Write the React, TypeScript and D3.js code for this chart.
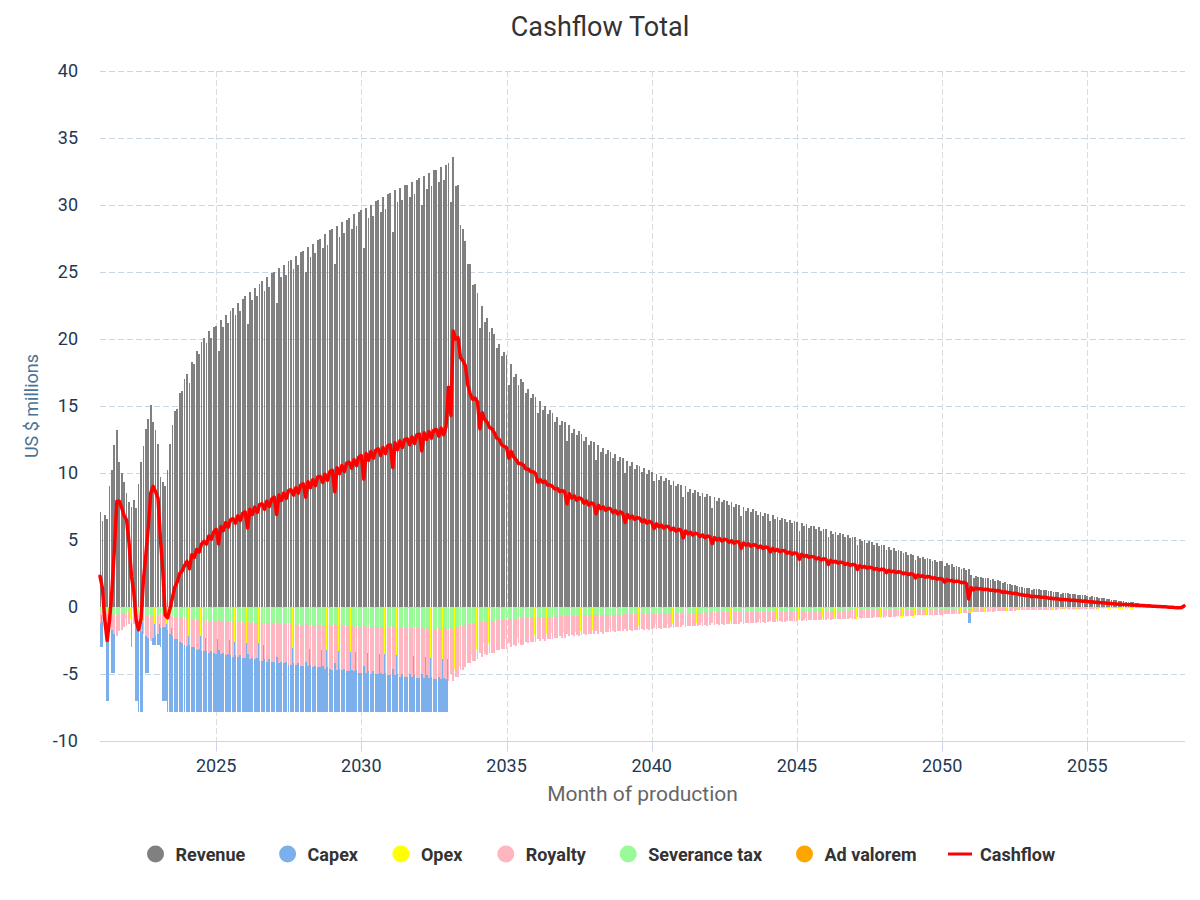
/**
 * Cashflow total - monthly columns with cashflow line
 */
import React, { useEffect, useRef } from 'react'
import * as d3 from 'd3'

// all values in US $ millions, one per month from Jan 2021 to May 2058
const startYear = 2021

const revenue = [
  7.1, 6.4, 6.9, 6.6, 9.0, 10.2, 12.1, 13.2, 10.8, 10.0, 9.3, 8.5,
  7.8, 7.5, 8.0, 7.4, 9.2, 10.8, 12.0, 13.3, 14.0, 15.1, 13.8, 13.2,
  12.2, 9.7, 9.3, 9.0, 10.2, 12.2, 13.6, 14.6, 14.8, 16.0, 16.1, 17.0,
  17.4, 16.7, 18.3, 18.1, 19.1, 18.9, 19.8, 20.1, 19.7, 20.6, 20.1, 20.9,
  21.0, 19.1, 21.4, 20.9, 21.8, 21.2, 22.1, 22.3, 21.8, 22.7, 22.1, 23.0,
  23.2, 21.1, 23.5, 22.9, 23.8, 23.2, 24.1, 24.3, 23.6, 24.6, 23.9, 24.9,
  25.0, 22.7, 25.3, 24.6, 25.5, 24.8, 25.8, 25.9, 25.2, 26.2, 25.5, 26.5,
  26.6, 25.0, 26.9, 26.1, 27.1, 26.4, 27.4, 27.5, 26.8, 27.8, 27.0, 28.1,
  28.2, 25.6, 28.4, 27.6, 28.7, 27.9, 28.9, 29.0, 28.2, 29.3, 28.4, 29.5,
  29.6, 26.8, 29.8, 29.0, 30.0, 29.2, 30.3, 30.4, 29.5, 30.6, 29.7, 30.8,
  30.9, 28.0, 31.1, 30.2, 31.3, 30.4, 31.5, 31.5, 30.6, 31.7, 30.8, 31.9,
  32.0, 30.0, 32.2, 31.2, 32.4, 31.4, 32.6, 32.6, 31.7, 32.8, 31.9, 33.0,
  33.1, 30.2, 33.6, 31.4, 31.5, 28.5, 28.2, 27.3, 25.6, 25.6, 24.0, 24.1,
  23.4, 20.8, 22.5, 21.3, 21.6, 20.5, 20.8, 20.4, 19.3, 19.6, 18.7, 19.0,
  18.8, 16.6, 18.1, 17.2, 17.4, 16.6, 17.0, 16.8, 16.0, 16.3, 15.6, 15.9,
  15.7, 14.5, 15.4, 14.7, 15.0, 14.4, 14.7, 14.5, 13.8, 14.2, 13.6, 13.9,
  13.8, 12.4, 13.6, 13.0, 13.3, 12.8, 13.1, 12.9, 12.4, 12.7, 12.1, 12.4,
  12.3, 11.0, 12.1, 11.6, 11.9, 11.4, 11.7, 11.6, 11.1, 11.4, 10.9, 11.2,
  11.1, 10.0, 10.9, 10.5, 10.8, 10.3, 10.6, 10.5, 10.1, 10.4, 9.9, 10.2,
  10.1, 9.4, 9.9, 9.5, 9.8, 9.4, 9.6, 9.5, 9.1, 9.4, 9.0, 9.2,
  9.1, 8.2, 9.0, 8.6, 8.8, 8.5, 8.7, 8.6, 8.3, 8.5, 8.2, 8.4,
  8.3, 7.4, 8.2, 7.9, 8.1, 7.8, 8.0, 7.9, 7.6, 7.8, 7.5, 7.7,
  7.6, 6.8, 7.5, 7.2, 7.4, 7.1, 7.3, 7.2, 6.9, 7.1, 6.8, 7.0,
  6.95, 6.45, 6.85, 6.58, 6.75, 6.49, 6.65, 6.6, 6.34, 6.5, 6.24, 6.4,
  6.35, 5.69, 6.26, 6.01, 6.17, 5.92, 6.08, 6.03, 5.79, 5.94, 5.7, 5.85,
  5.8, 5.19, 5.7, 5.47, 5.6, 5.37, 5.5, 5.45, 5.23, 5.35, 5.13, 5.25,
  5.2, 4.65, 5.1, 4.89, 5.0, 4.79, 4.9, 4.85, 4.65, 4.75, 4.55, 4.65,
  4.6, 4.24, 4.48, 4.29, 4.37, 4.17, 4.25, 4.19, 4.0, 4.08, 3.89, 3.96,
  3.9, 3.49, 3.82, 3.66, 3.73, 3.57, 3.65, 3.61, 3.46, 3.53, 3.37, 3.44,
  3.4, 3.03, 3.3, 3.14, 3.18, 3.02, 3.06, 3.0, 2.86, 2.9, 2.76, 2.8,
  2.4, 2.13, 2.33, 2.22, 2.25, 2.14, 2.18, 2.14, 2.03, 2.06, 1.97, 1.99,
  1.95, 1.78, 1.84, 1.72, 1.72, 1.62, 1.62, 1.58, 1.5, 1.51, 1.43, 1.45,
  1.42, 1.26, 1.37, 1.31, 1.32, 1.26, 1.27, 1.25, 1.18, 1.2, 1.13, 1.15,
  1.12, 0.99, 1.08, 1.02, 1.03, 0.98, 0.99, 0.96, 0.91, 0.92, 0.87, 0.87,
  0.85, 0.74, 0.79, 0.74, 0.73, 0.68, 0.68, 0.65, 0.6, 0.59, 0.54, 0.53,
  0.5, 0.45, 0.45, 0.42, 0.41, 0.37, 0.36, 0.34, 0.3, 0.29, 0.26, 0.24,
  0.22, 0.19, 0.19, 0.17, 0.16, 0.15, 0.13, 0.12, 0.1, 0.09, 0.07, 0.06,
  0.04, 0.03, 0.02, 0.01, 0.01,
]

// costs are stored as positive amounts and drawn below zero
const capex = [
  3.0, 3.0, 0, 7.0, 0, 4.9, 4.9, 0, 0, 0, 0, 0,
  0, 3.0, 0, 7.0, 7.8, 7.8, 0, 4.9, 4.9, 0, 2.8, 2.8,
  2.8, 3.0, 7.0, 7.0, 7.8, 7.8, 7.8, 7.8, 7.8, 7.8, 7.8, 7.8,
  7.8, 7.8, 7.8, 7.8, 7.8, 7.8, 7.8, 7.8, 7.8, 7.8, 7.8, 7.8,
  7.8, 7.8, 7.8, 7.8, 7.8, 7.8, 7.8, 7.8, 7.8, 7.8, 7.8, 7.8,
  7.8, 7.8, 7.8, 7.8, 7.8, 7.8, 7.8, 7.8, 7.8, 7.8, 7.8, 7.8,
  7.8, 7.8, 7.8, 7.8, 7.8, 7.8, 7.8, 7.8, 7.8, 7.8, 7.8, 7.8,
  7.8, 7.8, 7.8, 7.8, 7.8, 7.8, 7.8, 7.8, 7.8, 7.8, 7.8, 7.8,
  7.8, 7.8, 7.8, 7.8, 7.8, 7.8, 7.8, 7.8, 7.8, 7.8, 7.8, 7.8,
  7.8, 7.8, 7.8, 7.8, 7.8, 7.8, 7.8, 7.8, 7.8, 7.8, 7.8, 7.8,
  7.8, 7.8, 7.8, 7.8, 7.8, 7.8, 7.8, 7.8, 7.8, 7.8, 7.8, 7.8,
  7.8, 7.8, 7.8, 7.8, 7.8, 7.8, 7.8, 7.8, 7.8, 7.8, 7.8, 7.8,
  4.6, 2.0, 0, 0, 0, 0, 0, 0, 0, 0, 0, 0,
  0, 0, 0, 0, 0, 0, 0, 0, 0, 0, 0, 0,
  0, 0, 0, 0, 0, 0, 0, 0, 0, 0, 0, 0,
  0, 0, 0, 0, 0, 0, 0, 0, 0, 0, 0, 0,
  0, 0, 0, 0, 0, 0, 0, 0, 0, 0, 0, 0,
  0, 0, 0, 0, 0, 0, 0, 0, 0, 0, 0, 0,
  0, 0, 0, 0, 0, 0, 0, 0, 0, 0, 0, 0,
  0, 0, 0, 0, 0, 0, 0, 0, 0, 0, 0, 0,
  0, 0, 0, 0, 0, 0, 0, 0, 0, 0, 0, 0,
  0, 0, 0, 0, 0, 0, 0, 0, 0, 0, 0, 0,
  0, 0, 0, 0, 0, 0, 0, 0, 0, 0, 0, 0,
  0, 0, 0, 0, 0, 0, 0, 0, 0, 0, 0, 0,
  0, 0, 0, 0, 0, 0, 0, 0, 0, 0, 0, 0,
  0, 0, 0, 0, 0, 0, 0, 0, 0, 0, 0, 0,
  0, 0, 0, 0, 0, 0, 0, 0, 0, 0, 0, 0,
  0, 0, 0, 0, 0, 0, 0, 0, 0, 0, 0, 0,
  0, 0, 0, 0, 0, 0, 0, 0, 0, 0, 0, 0,
  0, 0, 0, 0, 0, 0, 0, 0, 0, 0, 0, 1.2,
  0, 0, 0, 0, 0, 0, 0, 0, 0, 0, 0, 0,
  0, 0, 0, 0, 0, 0, 0, 0, 0, 0, 0, 0,
  0, 0, 0, 0, 0, 0, 0, 0, 0, 0, 0, 0,
  0, 0, 0, 0, 0, 0, 0, 0, 0, 0, 0, 0,
  0, 0, 0, 0, 0, 0, 0, 0, 0, 0, 0, 0,
  0, 0, 0, 0, 0, 0, 0, 0, 0, 0, 0, 0,
  0, 0, 0, 0, 0, 0, 0, 0, 0, 0, 0, 0,
  0, 0, 0, 0, 0,
]

const opex = [
  0.6, 0.6, 0.6, 0.6, 0.8, 0.8, 0.9, 0.9, 0.9, 0.9, 0.9, 0.9,
  0.9, 0.9, 0.9, 0.9, 1.1, 1.1, 1.2, 1.2, 1.2, 1.3, 1.3, 1.3,
  1.3, 1.3, 1.3, 1.3, 1.5, 1.6, 1.7, 1.8, 1.9, 2.0, 2.0, 2.1,
  2.2, 2.05, 2.2, 2.15, 2.25, 2.2, 2.3, 2.3, 2.25, 2.35, 2.3, 2.4,
  2.4, 2.2, 2.45, 2.4, 2.5, 2.45, 2.55, 2.6, 2.5, 2.6, 2.55, 2.65,
  2.7, 2.45, 2.7, 2.65, 2.75, 2.7, 2.8, 2.8, 2.75, 2.85, 2.8, 2.9,
  2.9, 2.65, 2.95, 2.9, 3.0, 2.9, 3.0, 3.05, 2.95, 3.05, 3.0, 3.1,
  3.1, 2.95, 3.1, 3.05, 3.15, 3.1, 3.15, 3.2, 3.1, 3.2, 3.15, 3.25,
  3.25, 2.95, 3.25, 3.2, 3.3, 3.2, 3.3, 3.35, 3.25, 3.35, 3.3, 3.4,
  3.4, 3.1, 3.4, 3.35, 3.45, 3.35, 3.45, 3.5, 3.4, 3.5, 3.45, 3.55,
  3.55, 3.2, 3.55, 3.5, 3.6, 3.5, 3.6, 3.65, 3.55, 3.65, 3.6, 3.7,
  3.7, 3.5, 3.75, 3.65, 3.8, 3.7, 3.8, 3.85, 3.75, 3.85, 3.8, 3.9,
  4.0, 3.7, 4.6, 4.5, 4.4, 4.2, 4.1, 4.0, 3.9, 3.6, 3.3, 3.1,
  2.7, 2.5, 2.7, 2.6, 2.7, 2.6, 2.6, 2.6, 2.5, 2.5, 2.4, 2.4,
  2.4, 2.2, 2.4, 2.3, 2.3, 2.25, 2.25, 2.2, 2.15, 2.15, 2.1, 2.1,
  2.0, 1.9, 2.0, 1.95, 2.0, 1.95, 1.95, 1.95, 1.9, 1.9, 1.85, 1.9,
  1.9, 1.7, 1.85, 1.8, 1.85, 1.8, 1.8, 1.8, 1.75, 1.75, 1.7, 1.75,
  1.7, 1.55, 1.7, 1.65, 1.65, 1.6, 1.6, 1.6, 1.55, 1.6, 1.55, 1.55,
  1.55, 1.4, 1.5, 1.5, 1.5, 1.45, 1.45, 1.45, 1.4, 1.45, 1.4, 1.4,
  1.4, 1.3, 1.4, 1.35, 1.35, 1.3, 1.3, 1.3, 1.28, 1.3, 1.25, 1.27,
  1.25, 1.13, 1.23, 1.2, 1.22, 1.18, 1.2, 1.19, 1.15, 1.17, 1.13, 1.15,
  1.12, 1.01, 1.11, 1.07, 1.1, 1.06, 1.08, 1.07, 1.03, 1.06, 1.02, 1.04,
  1.0, 0.9, 0.99, 0.96, 0.98, 0.95, 0.97, 0.96, 0.93, 0.95, 0.92, 0.94,
  0.92, 0.86, 0.91, 0.88, 0.9, 0.87, 0.89, 0.88, 0.85, 0.87, 0.84, 0.86,
  0.86, 0.78, 0.86, 0.83, 0.85, 0.82, 0.84, 0.84, 0.81, 0.83, 0.8, 0.82,
  0.85, 0.77, 0.85, 0.82, 0.84, 0.81, 0.83, 0.83, 0.8, 0.82, 0.79, 0.81,
  0.86, 0.78, 0.86, 0.83, 0.85, 0.82, 0.84, 0.84, 0.81, 0.83, 0.8, 0.82,
  0.82, 0.77, 0.81, 0.78, 0.79, 0.76, 0.77, 0.76, 0.73, 0.74, 0.7, 0.72,
  0.62, 0.56, 0.61, 0.59, 0.6, 0.58, 0.59, 0.58, 0.56, 0.57, 0.55, 0.56,
  0.5, 0.45, 0.49, 0.47, 0.48, 0.46, 0.47, 0.46, 0.44, 0.45, 0.43, 0.44,
  0.39, 0.35, 0.38, 0.37, 0.37, 0.36, 0.36, 0.35, 0.34, 0.34, 0.33, 0.33,
  0.29, 0.27, 0.28, 0.27, 0.27, 0.26, 0.26, 0.26, 0.25, 0.25, 0.24, 0.24,
  0.23, 0.21, 0.23, 0.22, 0.22, 0.21, 0.22, 0.22, 0.21, 0.21, 0.2, 0.21,
  0.22, 0.2, 0.22, 0.21, 0.22, 0.21, 0.21, 0.21, 0.2, 0.21, 0.2, 0.2,
  0.2, 0.18, 0.2, 0.19, 0.19, 0.18, 0.18, 0.18, 0.17, 0.17, 0.16, 0.16,
  0.15, 0.14, 0.14, 0.13, 0.13, 0.12, 0.12, 0.11, 0.1, 0.1, 0.09, 0.09,
  0.08, 0.07, 0.07, 0.06, 0.06, 0.05, 0.05, 0.05, 0.04, 0.04, 0.04, 0.04,
  0.04, 0.04, 0.04, 0.04, 0.04,
]

const royalty = [
  1.2, 1.1, 1.1, 1.1, 1.5, 1.7, 2.0, 2.2, 1.8, 1.7, 1.5, 1.4,
  1.3, 1.2, 1.3, 1.2, 1.5, 1.8, 2.0, 2.2, 2.3, 2.5, 2.3, 2.2,
  2.0, 1.6, 1.5, 1.5, 1.7, 2.0, 2.2, 2.4, 2.4, 2.6, 2.7, 2.8,
  2.9, 2.8, 3.0, 3.0, 3.2, 3.1, 3.3, 3.3, 3.3, 3.4, 3.3, 3.4,
  3.5, 3.2, 3.5, 3.4, 3.6, 3.5, 3.6, 3.7, 3.6, 3.7, 3.6, 3.8,
  3.8, 3.5, 3.9, 3.8, 3.9, 3.8, 4.0, 4.0, 3.9, 4.1, 3.9, 4.1,
  4.1, 3.7, 4.2, 4.1, 4.2, 4.1, 4.3, 4.3, 4.2, 4.3, 4.2, 4.4,
  4.4, 4.1, 4.4, 4.3, 4.5, 4.4, 4.5, 4.5, 4.4, 4.6, 4.5, 4.6,
  4.7, 4.2, 4.7, 4.6, 4.7, 4.6, 4.8, 4.8, 4.7, 4.8, 4.7, 4.9,
  4.9, 4.4, 4.9, 4.8, 5.0, 4.8, 5.0, 5.0, 4.9, 5.0, 4.9, 5.1,
  5.1, 4.6, 5.1, 5.0, 5.2, 5.0, 5.2, 5.2, 5.0, 5.2, 5.1, 5.3,
  5.3, 5.0, 5.3, 5.1, 5.3, 5.2, 5.4, 5.4, 5.2, 5.4, 5.3, 5.4,
  5.5, 5.0, 5.5, 5.2, 5.2, 4.7, 4.7, 4.5, 4.2, 4.2, 4.0, 4.0,
  3.9, 3.4, 3.7, 3.5, 3.6, 3.4, 3.4, 3.4, 3.2, 3.2, 3.1, 3.1,
  3.1, 2.7, 3.0, 2.8, 2.9, 2.7, 2.8, 2.8, 2.6, 2.7, 2.6, 2.6,
  2.6, 2.4, 2.5, 2.4, 2.5, 2.4, 2.4, 2.4, 2.3, 2.3, 2.2, 2.3,
  2.3, 2.0, 2.2, 2.1, 2.2, 2.1, 2.2, 2.1, 2.0, 2.1, 2.0, 2.0,
  2.0, 1.8, 2.0, 1.9, 2.0, 1.9, 1.9, 1.9, 1.8, 1.9, 1.8, 1.8,
  1.8, 1.65, 1.8, 1.73, 1.78, 1.7, 1.75, 1.73, 1.67, 1.72, 1.63, 1.68,
  1.67, 1.55, 1.63, 1.57, 1.62, 1.55, 1.58, 1.57, 1.5, 1.55, 1.49, 1.52,
  1.5, 1.35, 1.49, 1.42, 1.45, 1.4, 1.44, 1.42, 1.37, 1.4, 1.35, 1.39,
  1.37, 1.22, 1.35, 1.3, 1.34, 1.29, 1.32, 1.3, 1.25, 1.29, 1.24, 1.27,
  1.25, 1.12, 1.24, 1.19, 1.22, 1.17, 1.2, 1.19, 1.14, 1.17, 1.12, 1.16,
  1.15, 1.06, 1.13, 1.09, 1.11, 1.07, 1.1, 1.09, 1.05, 1.07, 1.03, 1.06,
  1.05, 0.94, 1.03, 0.99, 1.02, 0.98, 1.0, 0.99, 0.96, 0.98, 0.94, 0.97,
  0.96, 0.86, 0.94, 0.9, 0.92, 0.89, 0.91, 0.9, 0.86, 0.88, 0.85, 0.87,
  0.86, 0.77, 0.84, 0.81, 0.83, 0.79, 0.81, 0.8, 0.77, 0.78, 0.75, 0.77,
  0.76, 0.7, 0.74, 0.71, 0.72, 0.69, 0.7, 0.69, 0.66, 0.67, 0.64, 0.65,
  0.64, 0.58, 0.63, 0.6, 0.62, 0.59, 0.6, 0.6, 0.57, 0.58, 0.56, 0.57,
  0.56, 0.5, 0.54, 0.52, 0.52, 0.5, 0.5, 0.5, 0.47, 0.48, 0.46, 0.46,
  0.4, 0.35, 0.38, 0.37, 0.37, 0.35, 0.36, 0.35, 0.33, 0.34, 0.33, 0.33,
  0.32, 0.29, 0.3, 0.28, 0.28, 0.27, 0.27, 0.26, 0.25, 0.25, 0.24, 0.24,
  0.23, 0.21, 0.23, 0.22, 0.22, 0.21, 0.21, 0.21, 0.19, 0.2, 0.19, 0.19,
  0.18, 0.16, 0.18, 0.17, 0.17, 0.16, 0.16, 0.16, 0.15, 0.15, 0.14, 0.14,
  0.14, 0.12, 0.13, 0.12, 0.12, 0.11, 0.11, 0.11, 0.1, 0.1, 0.09, 0.09,
  0.08, 0.07, 0.07, 0.07, 0.07, 0.06, 0.06, 0.06, 0.05, 0.05, 0.04, 0.04,
  0.04, 0.03, 0.03, 0.03, 0.03, 0.02, 0.02, 0.02, 0.02, 0.01, 0.01, 0.01,
  0.01, 0, 0, 0, 0,
]

const severanceTax = [
  0.36, 0.32, 0.35, 0.33, 0.45, 0.51, 0.61, 0.66, 0.54, 0.5, 0.47, 0.43,
  0.39, 0.38, 0.4, 0.37, 0.46, 0.54, 0.6, 0.67, 0.7, 0.76, 0.69, 0.66,
  0.61, 0.49, 0.47, 0.45, 0.51, 0.61, 0.68, 0.73, 0.74, 0.8, 0.81, 0.85,
  0.87, 0.84, 0.92, 0.91, 0.96, 0.95, 0.99, 1.01, 0.99, 1.03, 1.01, 1.05,
  1.05, 0.96, 1.07, 1.05, 1.09, 1.06, 1.11, 1.12, 1.09, 1.14, 1.11, 1.15,
  1.16, 1.06, 1.18, 1.15, 1.19, 1.16, 1.21, 1.22, 1.18, 1.23, 1.2, 1.25,
  1.25, 1.14, 1.27, 1.23, 1.28, 1.24, 1.29, 1.3, 1.26, 1.31, 1.28, 1.33,
  1.33, 1.25, 1.35, 1.31, 1.36, 1.32, 1.37, 1.38, 1.34, 1.39, 1.35, 1.41,
  1.41, 1.28, 1.42, 1.38, 1.44, 1.4, 1.45, 1.45, 1.41, 1.47, 1.42, 1.48,
  1.48, 1.34, 1.49, 1.45, 1.5, 1.46, 1.52, 1.52, 1.48, 1.53, 1.49, 1.54,
  1.55, 1.4, 1.56, 1.51, 1.57, 1.52, 1.58, 1.58, 1.53, 1.59, 1.54, 1.6,
  1.6, 1.5, 1.61, 1.56, 1.62, 1.57, 1.63, 1.63, 1.59, 1.64, 1.6, 1.65,
  1.66, 1.51, 1.68, 1.57, 1.58, 1.43, 1.41, 1.37, 1.28, 1.28, 1.2, 1.21,
  1.17, 1.04, 1.13, 1.07, 1.08, 1.03, 1.04, 1.02, 0.97, 0.98, 0.94, 0.95,
  0.94, 0.83, 0.91, 0.86, 0.87, 0.83, 0.85, 0.84, 0.8, 0.82, 0.78, 0.8,
  0.79, 0.73, 0.77, 0.74, 0.75, 0.72, 0.74, 0.73, 0.69, 0.71, 0.68, 0.7,
  0.69, 0.62, 0.68, 0.65, 0.67, 0.64, 0.66, 0.65, 0.62, 0.64, 0.61, 0.62,
  0.62, 0.55, 0.61, 0.58, 0.6, 0.57, 0.59, 0.58, 0.56, 0.57, 0.55, 0.56,
  0.56, 0.5, 0.55, 0.53, 0.54, 0.52, 0.53, 0.53, 0.51, 0.52, 0.5, 0.51,
  0.51, 0.47, 0.5, 0.48, 0.49, 0.47, 0.48, 0.48, 0.46, 0.47, 0.45, 0.46,
  0.46, 0.41, 0.45, 0.43, 0.44, 0.43, 0.44, 0.43, 0.42, 0.43, 0.41, 0.42,
  0.42, 0.37, 0.41, 0.4, 0.41, 0.39, 0.4, 0.4, 0.38, 0.39, 0.38, 0.39,
  0.38, 0.34, 0.38, 0.36, 0.37, 0.36, 0.37, 0.36, 0.35, 0.36, 0.34, 0.35,
  0.35, 0.32, 0.34, 0.33, 0.34, 0.32, 0.33, 0.33, 0.32, 0.33, 0.31, 0.32,
  0.32, 0.28, 0.31, 0.3, 0.31, 0.3, 0.3, 0.3, 0.29, 0.3, 0.29, 0.29,
  0.29, 0.26, 0.29, 0.27, 0.28, 0.27, 0.28, 0.27, 0.26, 0.27, 0.26, 0.26,
  0.26, 0.23, 0.26, 0.24, 0.25, 0.24, 0.25, 0.24, 0.23, 0.24, 0.23, 0.23,
  0.23, 0.21, 0.22, 0.21, 0.22, 0.21, 0.21, 0.21, 0.2, 0.2, 0.19, 0.2,
  0.2, 0.17, 0.19, 0.18, 0.19, 0.18, 0.18, 0.18, 0.17, 0.18, 0.17, 0.17,
  0.17, 0.15, 0.17, 0.16, 0.16, 0.15, 0.15, 0.15, 0.14, 0.15, 0.14, 0.14,
  0.12, 0.11, 0.12, 0.11, 0.11, 0.11, 0.11, 0.11, 0.1, 0.1, 0.1, 0.1,
  0.1, 0.09, 0.09, 0.09, 0.09, 0.08, 0.08, 0.08, 0.08, 0.08, 0.07, 0.07,
  0.07, 0.06, 0.07, 0.07, 0.07, 0.06, 0.06, 0.06, 0.06, 0.06, 0.06, 0.06,
  0.06, 0.05, 0.05, 0.05, 0.05, 0.05, 0.05, 0.05, 0.05, 0.05, 0.04, 0.04,
  0.04, 0.04, 0.04, 0.04, 0.04, 0.03, 0.03, 0.03, 0.03, 0.03, 0.03, 0.03,
  0.03, 0.02, 0.02, 0.02, 0.02, 0.02, 0.02, 0.02, 0.02, 0.01, 0.01, 0.01,
  0.01, 0.01, 0.01, 0.01, 0.01, 0.01, 0.01, 0.01, 0.01, 0, 0, 0,
  0, 0, 0, 0, 0,
]

const adValorem = [
  0.14, 0.13, 0.14, 0.13, 0.18, 0.2, 0.24, 0.26, 0.22, 0.2, 0.19, 0.17,
  0.16, 0.15, 0.16, 0.15, 0.18, 0.22, 0.24, 0.27, 0.28, 0.3, 0.28, 0.26,
  0.24, 0.19, 0.19, 0.18, 0.2, 0.24, 0.27, 0.29, 0.3, 0.32, 0.32, 0.34,
  0.35, 0.33, 0.37, 0.36, 0.38, 0.38, 0.4, 0.4, 0.39, 0.41, 0.4, 0.42,
  0.42, 0.38, 0.43, 0.42, 0.44, 0.42, 0.44, 0.45, 0.44, 0.45, 0.44, 0.46,
  0.46, 0.42, 0.47, 0.46, 0.48, 0.46, 0.48, 0.49, 0.47, 0.49, 0.48, 0.5,
  0.5, 0.45, 0.51, 0.49, 0.51, 0.5, 0.52, 0.52, 0.5, 0.52, 0.51, 0.53,
  0.53, 0.5, 0.54, 0.52, 0.54, 0.53, 0.55, 0.55, 0.54, 0.56, 0.54, 0.56,
  0.56, 0.51, 0.57, 0.55, 0.57, 0.56, 0.58, 0.58, 0.56, 0.59, 0.57, 0.59,
  0.59, 0.54, 0.6, 0.58, 0.6, 0.58, 0.61, 0.61, 0.59, 0.61, 0.59, 0.62,
  0.62, 0.56, 0.62, 0.6, 0.63, 0.61, 0.63, 0.63, 0.61, 0.63, 0.62, 0.64,
  0.64, 0.6, 0.64, 0.62, 0.65, 0.63, 0.65, 0.65, 0.63, 0.66, 0.64, 0.66,
  0.66, 0.6, 0.67, 0.63, 0.63, 0.57, 0.56, 0.55, 0.51, 0.51, 0.48, 0.48,
  0.47, 0.42, 0.45, 0.43, 0.43, 0.41, 0.42, 0.41, 0.39, 0.39, 0.37, 0.38,
  0.38, 0.33, 0.36, 0.34, 0.35, 0.33, 0.34, 0.34, 0.32, 0.33, 0.31, 0.32,
  0.31, 0.29, 0.31, 0.29, 0.3, 0.29, 0.29, 0.29, 0.28, 0.28, 0.27, 0.28,
  0.28, 0.25, 0.27, 0.26, 0.27, 0.26, 0.26, 0.26, 0.25, 0.25, 0.24, 0.25,
  0.25, 0.22, 0.24, 0.23, 0.24, 0.23, 0.23, 0.23, 0.22, 0.23, 0.22, 0.22,
  0.22, 0.2, 0.22, 0.21, 0.22, 0.21, 0.21, 0.21, 0.2, 0.21, 0.2, 0.2,
  0.2, 0.19, 0.2, 0.19, 0.2, 0.19, 0.19, 0.19, 0.18, 0.19, 0.18, 0.18,
  0.18, 0.16, 0.18, 0.17, 0.18, 0.17, 0.17, 0.17, 0.17, 0.17, 0.16, 0.17,
  0.17, 0.15, 0.16, 0.16, 0.16, 0.16, 0.16, 0.16, 0.15, 0.16, 0.15, 0.15,
  0.15, 0.14, 0.15, 0.14, 0.15, 0.14, 0.15, 0.14, 0.14, 0.14, 0.14, 0.14,
  0.14, 0.13, 0.14, 0.13, 0.14, 0.13, 0.13, 0.13, 0.13, 0.13, 0.12, 0.13,
  0.13, 0.11, 0.13, 0.12, 0.12, 0.12, 0.12, 0.12, 0.12, 0.12, 0.11, 0.12,
  0.12, 0.1, 0.11, 0.11, 0.11, 0.11, 0.11, 0.11, 0.1, 0.11, 0.1, 0.11,
  0.1, 0.09, 0.1, 0.1, 0.1, 0.1, 0.1, 0.1, 0.09, 0.1, 0.09, 0.09,
  0.09, 0.08, 0.09, 0.09, 0.09, 0.08, 0.09, 0.08, 0.08, 0.08, 0.08, 0.08,
  0.08, 0.07, 0.08, 0.07, 0.07, 0.07, 0.07, 0.07, 0.07, 0.07, 0.07, 0.07,
  0.07, 0.06, 0.07, 0.06, 0.06, 0.06, 0.06, 0.06, 0.06, 0.06, 0.06, 0.06,
  0.05, 0.04, 0.05, 0.04, 0.05, 0.04, 0.04, 0.04, 0.04, 0.04, 0.04, 0.04,
  0.04, 0.04, 0.04, 0.03, 0.03, 0.03, 0.03, 0.03, 0.03, 0.03, 0.03, 0.03,
  0.03, 0.03, 0.03, 0.03, 0.03, 0.03, 0.03, 0.03, 0.02, 0.02, 0.02, 0.02,
  0.02, 0.02, 0.02, 0.02, 0.02, 0.02, 0.02, 0.02, 0.02, 0.02, 0.02, 0.02,
  0.02, 0.01, 0.02, 0.01, 0.01, 0.01, 0.01, 0.01, 0.01, 0.01, 0.01, 0.01,
  0.01, 0.01, 0.01, 0.01, 0.01, 0.01, 0.01, 0.01, 0.01, 0.01, 0.01, 0.01,
  0, 0, 0, 0, 0, 0, 0, 0, 0, 0, 0, 0,
  0, 0, 0, 0, 0,
]

const cashflow = [
  2.3, 1.4, -0.9, -2.5, -1.0, 1.3, 4.3, 7.9, 7.9, 7.4, 6.8, 6.5,
  4.8, 2.3, 1.2, -1.0, -1.7, -0.9, 2.0, 3.9, 6.0, 8.5, 9.0, 8.6,
  8.1, 5.0, 2.8, -0.6, -0.8, -0.1, 0.7, 1.5, 1.9, 2.5, 2.7, 3.1,
  3.4, 2.85, 3.9, 3.7, 4.3, 4.1, 4.7, 4.9, 4.7, 5.3, 5.05, 5.6,
  5.8, 4.7, 6.0, 5.7, 6.3, 5.95, 6.5, 6.6, 6.25, 6.8, 6.45, 7.0,
  7.1, 5.9, 7.3, 6.9, 7.45, 7.05, 7.65, 7.7, 7.3, 7.9, 7.5, 8.05,
  8.2, 6.9, 8.35, 7.95, 8.5, 8.1, 8.7, 8.75, 8.35, 8.9, 8.5, 9.1,
  9.2, 8.2, 9.35, 8.9, 9.5, 9.05, 9.7, 9.75, 9.3, 9.9, 9.45, 10.1,
  10.2, 8.6, 10.4, 9.95, 10.55, 10.1, 10.75, 10.8, 10.35, 11.0, 10.55, 11.2,
  11.3, 9.55, 11.45, 10.95, 11.6, 11.1, 11.7, 11.8, 11.3, 11.9, 11.45, 12.05,
  12.1, 10.4, 12.25, 11.75, 12.4, 11.9, 12.5, 12.55, 12.1, 12.7, 12.2, 12.85,
  12.9, 11.65, 13.0, 12.5, 13.1, 12.6, 13.2, 13.25, 12.75, 13.35, 12.85, 13.45,
  16.4, 14.3, 20.6, 20.0, 20.1, 18.6, 18.4, 18.0, 16.6, 15.9, 15.5, 15.6,
  15.3, 13.3, 14.5, 14.0, 13.8, 13.4, 13.3, 13.0, 12.6, 12.5, 12.1, 12.0,
  11.9, 11.1, 11.6, 11.2, 11.0, 10.7, 10.7, 10.6, 10.3, 10.3, 10.1, 10.1,
  9.95, 9.3, 9.5, 9.3, 9.4, 9.1, 9.1, 9.0, 8.8, 8.85, 8.6, 8.7,
  8.6, 7.7, 8.45, 8.13, 8.3, 7.97, 8.15, 8.07, 7.75, 7.92, 7.6, 7.78,
  7.7, 6.95, 7.6, 7.32, 7.48, 7.21, 7.37, 7.32, 7.04, 7.2, 6.93, 7.1,
  7.0, 6.3, 6.9, 6.64, 6.78, 6.53, 6.67, 6.62, 6.36, 6.5, 6.25, 6.4,
  6.3, 5.86, 6.21, 5.98, 6.12, 5.89, 6.03, 5.98, 5.75, 5.89, 5.66, 5.8,
  5.75, 5.16, 5.67, 5.46, 5.58, 5.37, 5.5, 5.46, 5.25, 5.38, 5.17, 5.3,
  5.25, 4.72, 5.18, 4.99, 5.12, 4.92, 5.05, 5.02, 4.82, 4.95, 4.76, 4.88,
  4.85, 4.37, 4.78, 4.6, 4.72, 4.53, 4.65, 4.62, 4.43, 4.55, 4.37, 4.48,
  4.45, 4.11, 4.37, 4.2, 4.3, 4.12, 4.22, 4.19, 4.01, 4.11, 3.94, 4.04,
  4.0, 3.56, 3.93, 3.77, 3.85, 3.7, 3.78, 3.74, 3.59, 3.67, 3.51, 3.6,
  3.55, 3.17, 3.48, 3.34, 3.42, 3.27, 3.35, 3.32, 3.17, 3.25, 3.11, 3.18,
  3.15, 2.8, 3.09, 2.96, 3.03, 2.9, 2.97, 2.94, 2.81, 2.88, 2.75, 2.82,
  2.8, 2.57, 2.74, 2.62, 2.68, 2.57, 2.63, 2.6, 2.48, 2.54, 2.42, 2.48,
  2.45, 2.17, 2.39, 2.28, 2.33, 2.22, 2.28, 2.25, 2.14, 2.19, 2.08, 2.13,
  2.1, 1.85, 2.04, 1.95, 1.99, 1.89, 1.93, 1.9, 1.81, 1.85, 1.75, 0.6,
  1.45, 1.28, 1.41, 1.34, 1.37, 1.3, 1.33, 1.31, 1.24, 1.27, 1.2, 1.23,
  1.2, 1.09, 1.14, 1.07, 1.08, 1.01, 1.02, 0.99, 0.92, 0.93, 0.86, 0.87,
  0.85, 0.75, 0.81, 0.76, 0.77, 0.72, 0.73, 0.71, 0.66, 0.67, 0.62, 0.63,
  0.6, 0.54, 0.57, 0.54, 0.54, 0.51, 0.51, 0.5, 0.46, 0.47, 0.43, 0.44,
  0.42, 0.37, 0.39, 0.36, 0.36, 0.33, 0.32, 0.31, 0.28, 0.28, 0.25, 0.24,
  0.22, 0.2, 0.2, 0.18, 0.18, 0.16, 0.16, 0.15, 0.13, 0.13, 0.11, 0.11,
  0.1, 0.08, 0.08, 0.06, 0.05, 0.04, 0.03, 0.02, 0.01, 0.0, -0.01, -0.02,
  -0.04, -0.05, -0.06, -0.04, 0.08,
]

const legendItems = [
  { name: 'Revenue', color: '#808080', x: 155.5 },
  { name: 'Capex', color: '#7cb0ec', x: 287.6 },
  { name: 'Opex', color: '#ffff00', x: 400.9 },
  { name: 'Royalty', color: '#ffb6c1', x: 505.8 },
  { name: 'Severance tax', color: '#98fb98', x: 628.2 },
  { name: 'Ad valorem', color: '#ffa500', x: 804.5 },
  { name: 'Cashflow', color: '#ff0000', x: 960, line: true },
]

const colors = {
  revenue: '#808080',
  capex: '#7cb0ec',
  opex: '#ffff00',
  royalty: '#ffb6c1',
  severance: '#98fb98',
  adValorem: '#ffa500',
  cashflow: '#ff0000',
}

const App = () => {
  const width = 1200
  const height = 900
  const margin = { top: 71, right: 15, bottom: 159, left: 100 }
  const refSvg = useRef<SVGSVGElement>(null)

  const draw = () => {
    const svg = d3.select(refSvg.current)
    svg.selectAll('*').remove()

    const months = revenue.map((_, i) => new Date(Date.UTC(startYear, i, 1)))
    const x = d3
      .scaleUtc()
      .domain([months[0], months[months.length - 1]])
      .range([margin.left, 1184])
    const y = d3
      .scaleLinear()
      .domain([-10, 40])
      .range([height - margin.bottom, margin.top])
    const plotRight = width - margin.right
    const y0 = y(0)

    // title
    svg
      .append('text')
      .attr('x', width / 2)
      .attr('y', 36)
      .attr('text-anchor', 'middle')
      .style('font-size', '27px')
      .style('fill', '#333333')
      .text('Cashflow Total')

    // grid
    const yTicks = y.ticks(10)
    svg
      .append('g')
      .selectAll('line')
      .data(yTicks.filter((t) => t > -10))
      .join('line')
      .attr('x1', margin.left)
      .attr('x2', plotRight)
      .attr('y1', (d) => Math.round(y(d)) + 0.5)
      .attr('y2', (d) => Math.round(y(d)) + 0.5)
      .attr('stroke', '#c8d6e3')
      .attr('stroke-dasharray', '6,3')

    const xTicks = x.ticks(d3.utcYear.every(5) as d3.TimeInterval)
    svg
      .append('g')
      .selectAll('line')
      .data(xTicks)
      .join('line')
      .attr('x1', (d) => Math.round(x(d)) + 0.5)
      .attr('x2', (d) => Math.round(x(d)) + 0.5)
      .attr('y1', margin.top)
      .attr('y2', y(-10))
      .attr('stroke', '#dcdcdc')
      .attr('stroke-dasharray', '6,3')

    // column pixel layout: each month gets a narrow column, opex peeks out on its right edge
    const half = 0.9
    const cols = months.map((d) => {
      const cx = x(d)
      const L = Math.round(cx - half)
      const R = Math.max(Math.round(cx + half), L + 1)
      const P = Math.round(cx + 1.3)
      return { L, R, P }
    })

    svg
      .append('defs')
      .append('clipPath')
      .attr('id', 'plot-clip')
      .append('rect')
      .attr('x', margin.left)
      .attr('y', margin.top)
      .attr('width', plotRight - margin.left)
      .attr('height', y(-10) - margin.top)

    const plot = svg.append('g').attr('clip-path', 'url(#plot-clip)').attr('shape-rendering', 'crispEdges')

    const drawCols = (
      values: number[],
      color: string,
      sign: number,
      span: (i: number) => [number, number]
    ) => {
      plot
        .append('g')
        .selectAll('rect')
        .data(values)
        .join('rect')
        .attr('x', (_, i) => span(i)[0])
        .attr('width', (_, i) => span(i)[1] - span(i)[0])
        .attr('y', (d) => Math.min(y(sign * d), y0))
        .attr('height', (d) => Math.abs(y(sign * d) - y0))
        .attr('fill', color)
    }

    const main = (i: number): [number, number] => [cols[i].L, cols[i].R]
    drawCols(revenue, colors.revenue, 1, main)
    drawCols(capex, colors.capex, -1, (i) => [cols[i].L, cols[i].P === cols[i].R ? cols[i].R + 1 : cols[i].R])
    drawCols(opex, colors.opex, -1, (i) => [cols[i].P, cols[i].P + 1])
    drawCols(adValorem, colors.adValorem, -1, main)
    drawCols(royalty, colors.royalty, -1, main)
    drawCols(severanceTax, colors.severance, -1, main)

    // cashflow line
    const line = d3
      .line<number>()
      .x((_, i) => x(months[i]))
      .y((d) => y(d))
    svg
      .append('path')
      .datum(cashflow)
      .attr('d', line)
      .attr('fill', 'none')
      .attr('stroke', colors.cashflow)
      .attr('stroke-width', 3.5)
      .attr('stroke-linejoin', 'round')
      .attr('stroke-linecap', 'round')

    // x axis
    const axisY = Math.round(y(-10)) + 0.5
    svg
      .append('line')
      .attr('x1', margin.left)
      .attr('x2', plotRight)
      .attr('y1', axisY)
      .attr('y2', axisY)
      .attr('stroke', '#ccd6eb')
    svg
      .append('g')
      .selectAll('line')
      .data(xTicks)
      .join('line')
      .attr('x1', (d) => Math.round(x(d)) + 0.5)
      .attr('x2', (d) => Math.round(x(d)) + 0.5)
      .attr('y1', axisY)
      .attr('y2', axisY + 10)
      .attr('stroke', '#ccd6eb')
    svg
      .append('g')
      .selectAll('text')
      .data(xTicks)
      .join('text')
      .attr('x', (d) => x(d))
      .attr('y', 772)
      .attr('text-anchor', 'middle')
      .style('font-size', '18px')
      .style('fill', '#1f3853')
      .text((d) => d.getUTCFullYear())
    svg
      .append('text')
      .attr('x', (margin.left + plotRight) / 2)
      .attr('y', 801)
      .attr('text-anchor', 'middle')
      .style('font-size', '21px')
      .style('fill', '#666666')
      .text('Month of production')

    // y axis
    svg
      .append('g')
      .selectAll('text')
      .data(yTicks)
      .join('text')
      .attr('x', 78)
      .attr('y', (d) => y(d) + 6)
      .attr('text-anchor', 'end')
      .style('font-size', '18px')
      .style('fill', '#1f3853')
      .text((d) => String(d))
    svg
      .append('text')
      .attr('transform', `translate(38,${(margin.top + y(-10)) / 2}) rotate(-90)`)
      .attr('text-anchor', 'middle')
      .style('font-size', '18px')
      .style('fill', '#4a7396')
      .text('US $ millions')

    // legend
    const legend = svg.append('g').attr('transform', 'translate(0,854)')
    legendItems.forEach((item) => {
      if (item.line) {
        legend
          .append('line')
          .attr('x1', item.x - 12)
          .attr('x2', item.x + 12)
          .attr('stroke', item.color)
          .attr('stroke-width', 3)
      } else {
        legend.append('circle').attr('cx', item.x).attr('r', 8.5).attr('fill', item.color)
      }
      legend
        .append('text')
        .attr('x', item.x + 20)
        .attr('y', 6.5)
        .style('font-size', '18px')
        .style('font-weight', 'bold')
        .style('fill', '#333333')
        .text(item.name)
    })
  }

  useEffect(() => {
    if (refSvg.current) {
      draw()
    }
  }, [])

  return (
    <svg
      ref={refSvg}
      width={width}
      height={height}
      style={{ position: 'absolute', left: 0, top: 0, fontFamily: 'Roboto, sans-serif', background: '#fff' }}
    />
  )
}

export default App
